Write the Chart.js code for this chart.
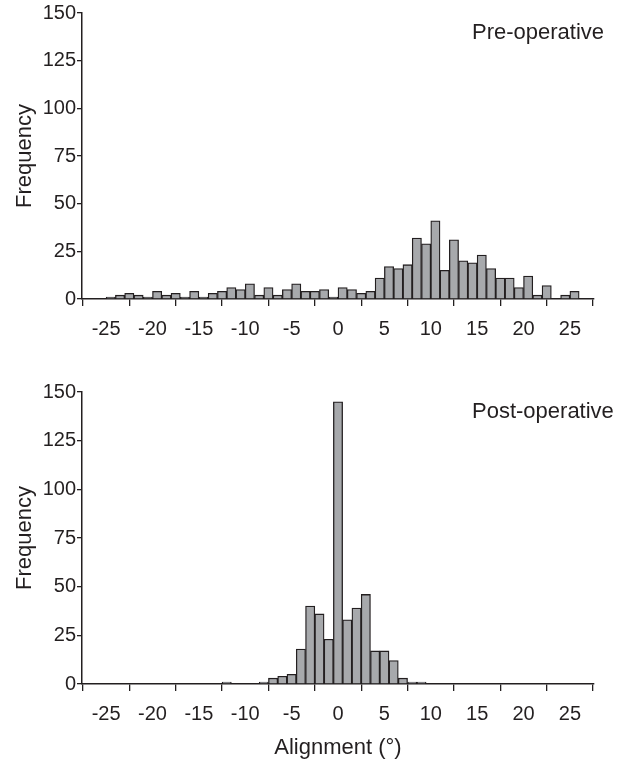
<!DOCTYPE html>
<html lang="en">
<head>
<meta charset="UTF-8">
<title>Alignment histograms</title>
<script src="https://cdn.jsdelivr.net/npm/chart.js"></script>
<style>
    html, body { margin: 0; padding: 0; background: #fff; }
    body { width: 618px; height: 763px; position: relative; overflow: hidden; }
    .box { position: absolute; left: 0; width: 618px; }
    #topBox { top: 0; height: 340px; }
    #bottomBox { top: 345px; height: 418px; }
</style>
</head>
<body>

<div class="box" id="topBox"><canvas id="preChart" width="618" height="340"></canvas></div>
<div class="box" id="bottomBox"><canvas id="postChart" width="618" height="418"></canvas></div>

<script>
    const xTicks = [-25, -20, -15, -10, -5, 0, 5, 10, 15, 20, 25];
    const yTicks = [0, 25, 50, 75, 100, 125, 150];

    // pre-operative: bins given by lower edge (bin k covers k..k+1)
    const preBins = [-25, -24, -23, -22, -21, -20, -19, -18, -17, -16, -15, -14, -13,
                     -12, -11, -10, -9, -8, -7, -6, -5, -4, -3, -2, -1,
                     0, 1, 2, 3, 4, 5, 6, 7, 8, 9, 10, 11, 12, 13,
                     14, 15, 16, 17, 18, 19, 20, 21, 22, 23, 24, 25];
    const preCounts = [1, 2, 3, 2, 1, 4, 2, 3, 1, 4, 1, 3, 4,
                       6, 5, 8, 2, 6, 2, 5, 8, 4, 4, 5, 1,
                       6, 5, 3, 4, 11, 17, 16, 18, 32, 29, 41, 15, 31, 20,
                       19, 23, 16, 11, 11, 6, 12, 2, 7, 0, 2, 4];

    // post-operative: bins given by centre
    const postBins = [-25, -24, -23, -22, -21, -20, -19, -18, -17, -16, -15, -14, -13,
                      -12, -11, -10, -9, -8, -7, -6, -5, -4, -3, -2, -1,
                      0, 1, 2, 3, 4, 5, 6, 7, 8, 9, 10, 11, 12, 13,
                      14, 15, 16, 17, 18, 19, 20, 21, 22, 23, 24, 25];
    const postCounts = [0, 0, 0, 0, 0, 0, 0, 0, 0, 0, 0, 0, 0,
                        1, 0, 0, 0, 1, 3, 4, 5, 18, 40, 36, 23,
                        145, 33, 39, 46, 17, 17, 12, 3, 1, 1, 0, 0, 0, 0,
                        0, 0, 0, 0, 0, 0, 0, 0, 0, 0, 0, 0];

    const FONT = '"Liberation Sans", Arial, Helvetica, sans-serif';
    const INK = '#231f20';

    // panel name written inside the plot, top right
    const panelLabel = {
        id: 'panelLabel',
        afterDraw(chart, args, opts) {
            const { ctx, chartArea } = chart;
            ctx.save();
            ctx.font = '22px ' + FONT;
            ctx.fillStyle = INK;
            ctx.textAlign = 'left';
            ctx.textBaseline = 'middle';
            ctx.fillText(opts.text, chartArea.left + 390, chartArea.top + 20);
            ctx.restore();
        }
    };

    function makeChart(id, bins, counts, shift, name, xTitle, topPad, xHeight) {
        const points = bins.map((b, i) => ({ x: b + shift, y: counts[i] }));
        return new Chart(document.getElementById(id), {
            type: 'bar',
            data: {
                datasets: [{
                    data: points,
                    backgroundColor: '#a7a9ac',
                    borderColor: INK,
                    borderWidth: 1.3,
                    barPercentage: 1,
                    categoryPercentage: 1
                }]
            },
            options: {
                responsive: false,
                animation: false,
                layout: { padding: { top: topPad, right: 24, left: 0, bottom: 0 } },
                plugins: {
                    legend: { display: false },
                    tooltip: { enabled: false },
                    panelLabel: { text: name }
                },
                scales: {
                    x: {
                        type: 'linear',
                        min: -27.6,
                        max: 27.6,
                        offset: false,
                        afterBuildTicks: s => { s.ticks = xTicks.map(v => ({ value: v })); },
                        afterFit: s => { s.height = xHeight; },
                        grid: { drawOnChartArea: false, drawTicks: true, tickLength: 7, color: INK, lineWidth: 1.3 },
                        border: { display: true, color: INK, width: 1.5 },
                        ticks: {
                            padding: 11,
                            color: INK,
                            font: { family: FONT, size: 20 },
                            maxRotation: 0,
                            autoSkip: false,
                            callback: v => String(v)
                        },
                        title: {
                            display: !!xTitle,
                            text: xTitle || '',
                            color: INK,
                            font: { family: FONT, size: 22 },
                            padding: { top: 0, bottom: 2 }
                        }
                    },
                    y: {
                        min: 0,
                        max: 150,
                        afterBuildTicks: s => { s.ticks = yTicks.map(v => ({ value: v })); },
                        afterFit: s => { s.width = 82; },
                        grid: { drawOnChartArea: false, drawTicks: true, tickLength: 5, color: INK, lineWidth: 1.3 },
                        border: { display: true, color: INK, width: 1.5 },
                        ticks: {
                            padding: 1,
                            color: INK,
                            font: { family: FONT, size: 20 },
                            callback: v => String(v)
                        },
                        title: {
                            display: true,
                            text: 'Frequency',
                            color: INK,
                            font: { family: FONT, size: 22 },
                            padding: { top: 12, bottom: 0 }
                        }
                    }
                }
            },
            plugins: [panelLabel]
        });
    }

    makeChart('preChart', preBins, preCounts, 0.5, 'Pre-operative', null, 13, 41);
    makeChart('postChart', postBins, postCounts, 0, 'Post-operative', 'Alignment (°)', 47, 79);
</script>

</body>
</html>
